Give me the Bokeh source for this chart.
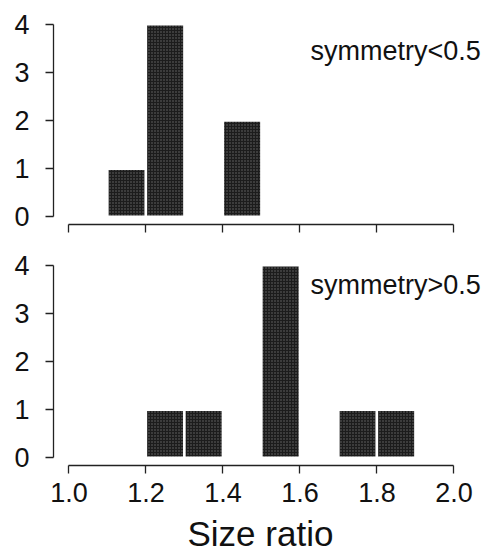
from bokeh.plotting import figure
from bokeh.layouts import column
from bokeh.models import Range1d, FixedTicker, Label, Title
from bokeh.embed import file_html
from bokeh.resources import INLINE

# ---- data ----
bin_width = 0.1
low_bins = [1.1, 1.2, 1.4]          # symmetry < 0.5 : bin left edges
low_counts = [1, 4, 2]
high_bins = [1.2, 1.3, 1.5, 1.7, 1.8]  # symmetry > 0.5 : bin left edges
high_counts = [1, 1, 4, 1, 1]
x_ticks = [1.0, 1.2, 1.4, 1.6, 1.8, 2.0]
x_tick_labels = ["1.0", "1.2", "1.4", "1.6", "1.8", "2.0"]
y_ticks = [0, 1, 2, 3, 4]
panel_labels = ["symmetry<0.5", "symmetry>0.5"]
x_title = "Size ratio"

FONT = "Liberation Sans"
W = 486
LEFT = 53
FRAME_W = 432
X_LO = 0.96
X_HI = X_LO + FRAME_W / 385.0


def make_panel(bins, counts, label, label_y, height, top_border, bottom_border, show_xlabels):
    p = figure(width=W, height=height, output_backend="svg", toolbar_location=None,
               x_range=Range1d(X_LO, X_HI), y_range=Range1d(-0.16, 4.16),
               min_border_left=LEFT, min_border_right=W - LEFT - FRAME_W,
               min_border_top=top_border, min_border_bottom=bottom_border)
    p.outline_line_color = None
    p.xgrid.grid_line_color = None
    p.ygrid.grid_line_color = None
    p.background_fill_color = "white"
    p.border_fill_color = "white"

    rights = [b + bin_width for b in bins]
    p.quad(left=bins, right=rights, bottom=0, top=counts,
           fill_color="#1c1c1c", line_color="white", line_width=2.5,
           hatch_pattern="dot", hatch_color="#6a6a6a", hatch_scale=3, hatch_weight=1)

    for ax in (p.xaxis[0], p.yaxis[0]):
        ax.axis_line_color = "#222222"
        ax.axis_line_width = 1.3
        ax.major_tick_line_color = "#222222"
        ax.major_tick_line_width = 1.3
        ax.minor_tick_line_color = None
        ax.major_tick_in = 0
        ax.major_tick_out = 8
        ax.major_label_text_font = FONT
        ax.major_label_text_font_size = "27px"
        ax.major_label_text_color = "#111111"

    p.xaxis.ticker = FixedTicker(ticks=x_ticks)
    p.xaxis.bounds = (x_ticks[0], x_ticks[-1])
    p.yaxis.ticker = FixedTicker(ticks=y_ticks)
    p.yaxis.bounds = (y_ticks[0], y_ticks[-1])
    p.yaxis.major_label_standoff = 16
    p.yaxis.major_label_orientation = "horizontal"

    if show_xlabels:
        p.xaxis.major_label_overrides = {t: s for t, s in zip(x_ticks, x_tick_labels)}
        p.xaxis.major_label_standoff = 9
        p.add_layout(Title(text=x_title, align="left", offset=134,
                           text_font=FONT, text_font_size="35px",
                           text_font_style="normal", text_color="#111111",
                           standoff=14), "below")
    else:
        p.xaxis.major_label_text_font_size = "0px"
        p.xaxis.major_label_overrides = {t: "" for t in x_ticks}

    p.add_layout(Label(x=2.07, y=label_y, text=label, text_align="right",
                       text_baseline="alphabetic", text_font=FONT,
                       text_font_size="27px", text_color="#111111"))
    return p


top = make_panel(low_bins, low_counts, panel_labels[0], 3.44, 248, 16, 24, False)
bottom = make_panel(high_bins, high_counts, panel_labels[1], 3.58, 311, 9, 94, True)

layout = column(top, bottom)
open("out.html", "w").write(file_html(layout, INLINE))
